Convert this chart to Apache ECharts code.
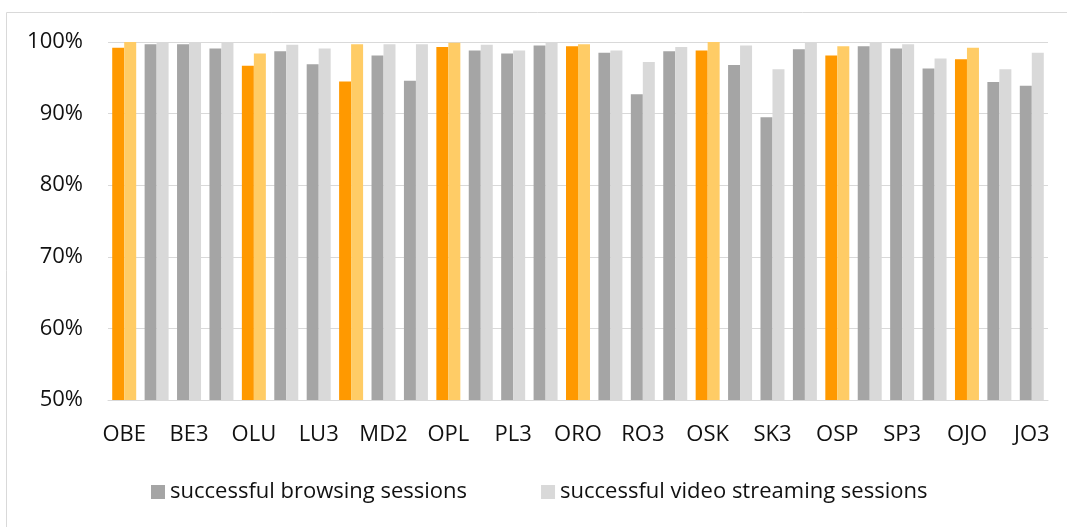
<!DOCTYPE html>
<html>
<head>
<meta charset="utf-8">
<script src="https://cdn.jsdelivr.net/npm/echarts@6/dist/echarts.min.js"></script>
<style>
  html, body { margin: 0; padding: 0; background: #fff; }
  #main { width: 1067px; height: 527px; }
</style>
</head>
<body>
<div id="main"></div>
<script>
// 29 categories, only every other one carries a visible label
const categories = [
  "OBE", "", "BE3", "", "OLU", "", "LU3", "", "MD2", "", "OPL", "", "PL3", "", "ORO",
  "", "RO3", "", "OSK", "", "SK3", "", "OSP", "", "SP3", "", "OJO", "", "JO3"
];
// categories drawn in orange
const operatorIdx = [0, 4, 7, 10, 14, 18, 22, 26];

const browsing = [
  99.2, 99.7, 99.7, 99.1, 96.7, 98.7, 96.9, 94.5, 98.1, 94.6, 99.3, 98.8, 98.4, 99.5, 99.4,
  98.5, 92.7, 98.7, 98.8, 96.8, 89.5, 99.0, 98.1, 99.4, 99.1, 96.3, 97.6, 94.4, 93.9
];
const streaming = [
  100, 99.9, 100, 99.9, 98.4, 99.6, 99.1, 99.7, 99.7, 99.7, 99.9, 99.6, 98.8, 99.9, 99.7,
  98.8, 97.2, 99.3, 100, 99.5, 96.2, 100, 99.4, 100, 99.7, 97.7, 99.2, 96.2, 98.5
];
const yTicks = [50, 60, 70, 80, 90, 100];

const FONT = "Open Sans";
const TEXT = "#111";

let chart = echarts.init(document.getElementById("main"));

let paint = (vals, opColor) =>
  vals.map((v, i) =>
    operatorIdx.includes(i) ? { value: v, itemStyle: { color: opColor } } : v
  );

let option = {
  animation: false,
  textStyle: { fontFamily: FONT },
  graphic: [
    {
      type: "rect",
      shape: { x: 6.5, y: 12.5, width: 1100, height: 600 },
      style: { fill: "none", stroke: "#d9d9d9", lineWidth: 1 },
      silent: true,
    },
  ],
  grid: {
    left: 108,
    right: 19,
    top: 42,
    bottom: 127,
  },
  legend: {
    left: 146,
    top: 476,
    itemWidth: 14,
    itemHeight: 14,
    itemGap: 74,
    icon: "rect",
    textStyle: { fontFamily: FONT, fontSize: 22, color: TEXT },
  },
  xAxis: {
    type: "category",
    data: categories,
    axisLine: { lineStyle: { color: "#d9d9d9", width: 1 } },
    axisTick: { show: false },
    axisLabel: {
      interval: 0,
      margin: 24,
      fontFamily: FONT,
      fontSize: 22,
      color: TEXT,
    },
  },
  yAxis: {
    type: "value",
    min: yTicks[0],
    max: yTicks[yTicks.length - 1],
    interval: 10,
    axisLine: { show: false },
    axisTick: { show: false },
    splitLine: { lineStyle: { color: "#d9d9d9", width: 1 } },
    axisLabel: {
      margin: 25,
      fontFamily: FONT,
      fontSize: 22,
      color: TEXT,
      formatter: (v) => v + "%",
    },
  },
  series: [
    {
      name: "successful browsing sessions",
      type: "bar",
      itemStyle: { color: "#a5a5a5" },
      barGap: "0%",
      barCategoryGap: "26%",
      data: paint(browsing, "#ff9900"),
    },
    {
      name: "successful video streaming sessions",
      type: "bar",
      itemStyle: { color: "#d9d9d9" },
      data: paint(streaming, "#ffcc66"),
    },
  ],
};
chart.setOption(option);
</script>
</body>
</html>
